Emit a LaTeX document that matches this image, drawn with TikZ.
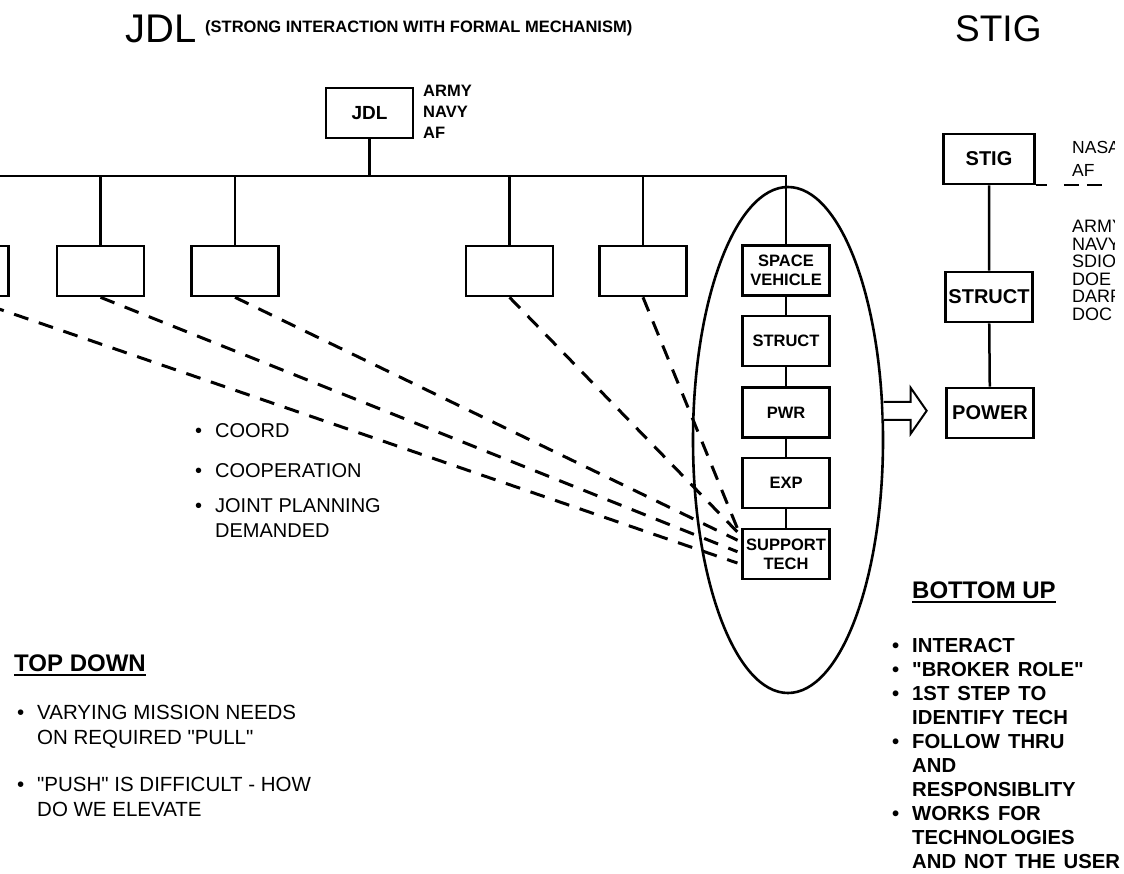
\documentclass[tikz,border=0pt]{standalone}
\usepackage{fontspec}
\setmainfont{Liberation Sans}
\usetikzlibrary{shapes.geometric}
\newcommand{\fsz}[2]{\fontsize{#1}{#2}\selectfont}
\newcommand{\itm}{\llap{\textbullet\hspace{13pt}}}
\newcommand{\qq}{\textquotedbl}
\newcommand{\widesp}{\spaceskip 8pt\relax}

\begin{document}
\begin{tikzpicture}[x=1pt, y=-1pt,
  blk/.style={draw, line width=2.6pt, fill=white, minimum width=87pt,
              minimum height=50pt, inner sep=1pt, align=center,
              font=\fsz{16.5}{19}\bfseries},
  sblk/.style={blk, font=\fsz{20}{24}\bfseries},
  lbl/.style={anchor=north west, inner sep=0pt, align=left},
  wire/.style={line width=2.5pt},
  tie/.style={line width=3pt, dash pattern=on 15pt off 11pt, shorten >=4pt},
]
  \useasboundingbox (0,0) rectangle (1124,873);
  \clip (0,0) rectangle (1124,873);

  % titles
  \node[lbl, font=\fsz{40}{40}] (ttl) at (125,15) {JDL};
  \node[lbl, font=\fsz{16.5}{18}\bfseries] (sub) at (205,20)
    {(STRONG INTERACTION WITH FORMAL MECHANISM)};
  \node[lbl, font=\fsz{37}{37}] (sttl) at (955,15) {STIG};

  % JDL tree
  \node[blk, font=\fsz{19}{22}\bfseries] (jdl) at (369.5,113) {JDL};
  \node[lbl, font=\fsz{16.5}{21}\bfseries] (svc) at (423,85) {ARMY\\NAVY\\AF};
  \foreach \nm/\xx in {b1/-35, b2/100.5, b3/235, b4/509.5, b5/643}
    \node[blk] (\nm) at (\xx,271) {};
  \node[blk] (sv) at (786,270.5) {SPACE\\VEHICLE};
  \node[blk] (st) at (786,341) {STRUCT};
  \node[blk] (pw) at (786,412.5) {PWR};
  \node[blk] (ex) at (786,483) {EXP};
  \node[blk] (sup) at (786,554) {SUPPORT\\TECH};
  \node[draw, ellipse, line width=2.6pt, inner sep=0pt, minimum width=190pt,
        minimum height=506pt] (grp) at (788,440) {};

  \coordinate (busL) at (-10,176);
  \draw[wire] (busL) -| (sv.north);
  \draw[wire] (jdl.south) -- (jdl.south |- busL);
  \foreach \nm in {b1, b2, b3, b4, b5}
    \draw[wire] (\nm.north) -- (\nm.north |- busL);
  \draw[wire] (sv) -- (st) -- (pw) -- (ex) -- (sup);

  % dashed ties
  \draw[tie] (b5.south) -- (sup.160);
  \draw[tie] (b4.south) -- (sup.158);
  \draw[tie] (b3.south) -- (sup.165);
  \draw[tie] (b2.south) -- (sup.179);
  \draw[tie] (b1.south) -- (sup.193);

  % STIG
  \node[sblk, minimum width=91pt] (stig) at (989,159) {STIG};
  \node[sblk] (sst) at (989,297) {STRUCT};
  \node[sblk] (spw) at (990,413) {POWER};
  \draw[wire] (stig) -- (sst) -- (spw);
  \begin{scope}
    \clip (1040,130) rectangle (1114,340);
    \node[lbl, font=\fsz{17.5}{23}] (lead) at (1072,141) {NASA\\AF};
    \node[lbl, font=\fsz{18}{17.6}] (agn) at (1072,220)
      {ARMY\\NAVY\\SDIO\\DOE\\DARPA\\DOC};
  \end{scope}
  \draw[line width=2pt, dash pattern=on 11pt off 17pt on 15pt off 8pt on 15pt off 40pt]
    (stig.south east) -- ++(70,0);

  % hollow arrow
  \draw[line width=2pt, fill=white] (grp.17) ++(0,-9) -- ++(27,0) -- ++(0,-14)
    -- ++(16,23) -- ++(-16,23) -- ++(0,-14) -- ++(-27,0);

  % notes
  \node[lbl, font=\fsz{20}{25}] (coop) at (215,423)
    {\itm COORD\\[15pt]\itm COOPERATION\\[10pt]\itm JOINT PLANNING\\DEMANDED};

  \node[lbl, font=\fsz{24}{28}\bfseries] (tdh) at (14,655) {TOP DOWN};
  \draw[line width=2pt] ([yshift=-3pt]tdh.south west) -- ([yshift=-3pt]tdh.south east);
  \node[lbl, font=\fsz{20.5}{25}] (tdl) at (37,705)
    {\itm VARYING MISSION NEEDS\\ON REQUIRED \qq PULL\qq\\[22pt]\itm \qq PUSH\qq\ IS DIFFICULT - HOW\\DO WE ELEVATE};

  \node[lbl, font=\fsz{24}{28}\bfseries] (buh) at (912,582) {BOTTOM UP};
  \draw[line width=2pt] ([yshift=-3pt]buh.south west) -- ([yshift=-3pt]buh.south east);
  \node[lbl, font=\fsz{20.3}{24}\bfseries\widesp] (bul) at (912,638)
    {\itm INTERACT\\\itm \qq BROKER ROLE\qq\\\itm 1ST STEP TO\\IDENTIFY TECH\\\itm FOLLOW THRU\\AND\\RESPONSIBLITY\\\itm WORKS FOR\\TECHNOLOGIES\\AND NOT THE USER};
\end{tikzpicture}
\end{document}
